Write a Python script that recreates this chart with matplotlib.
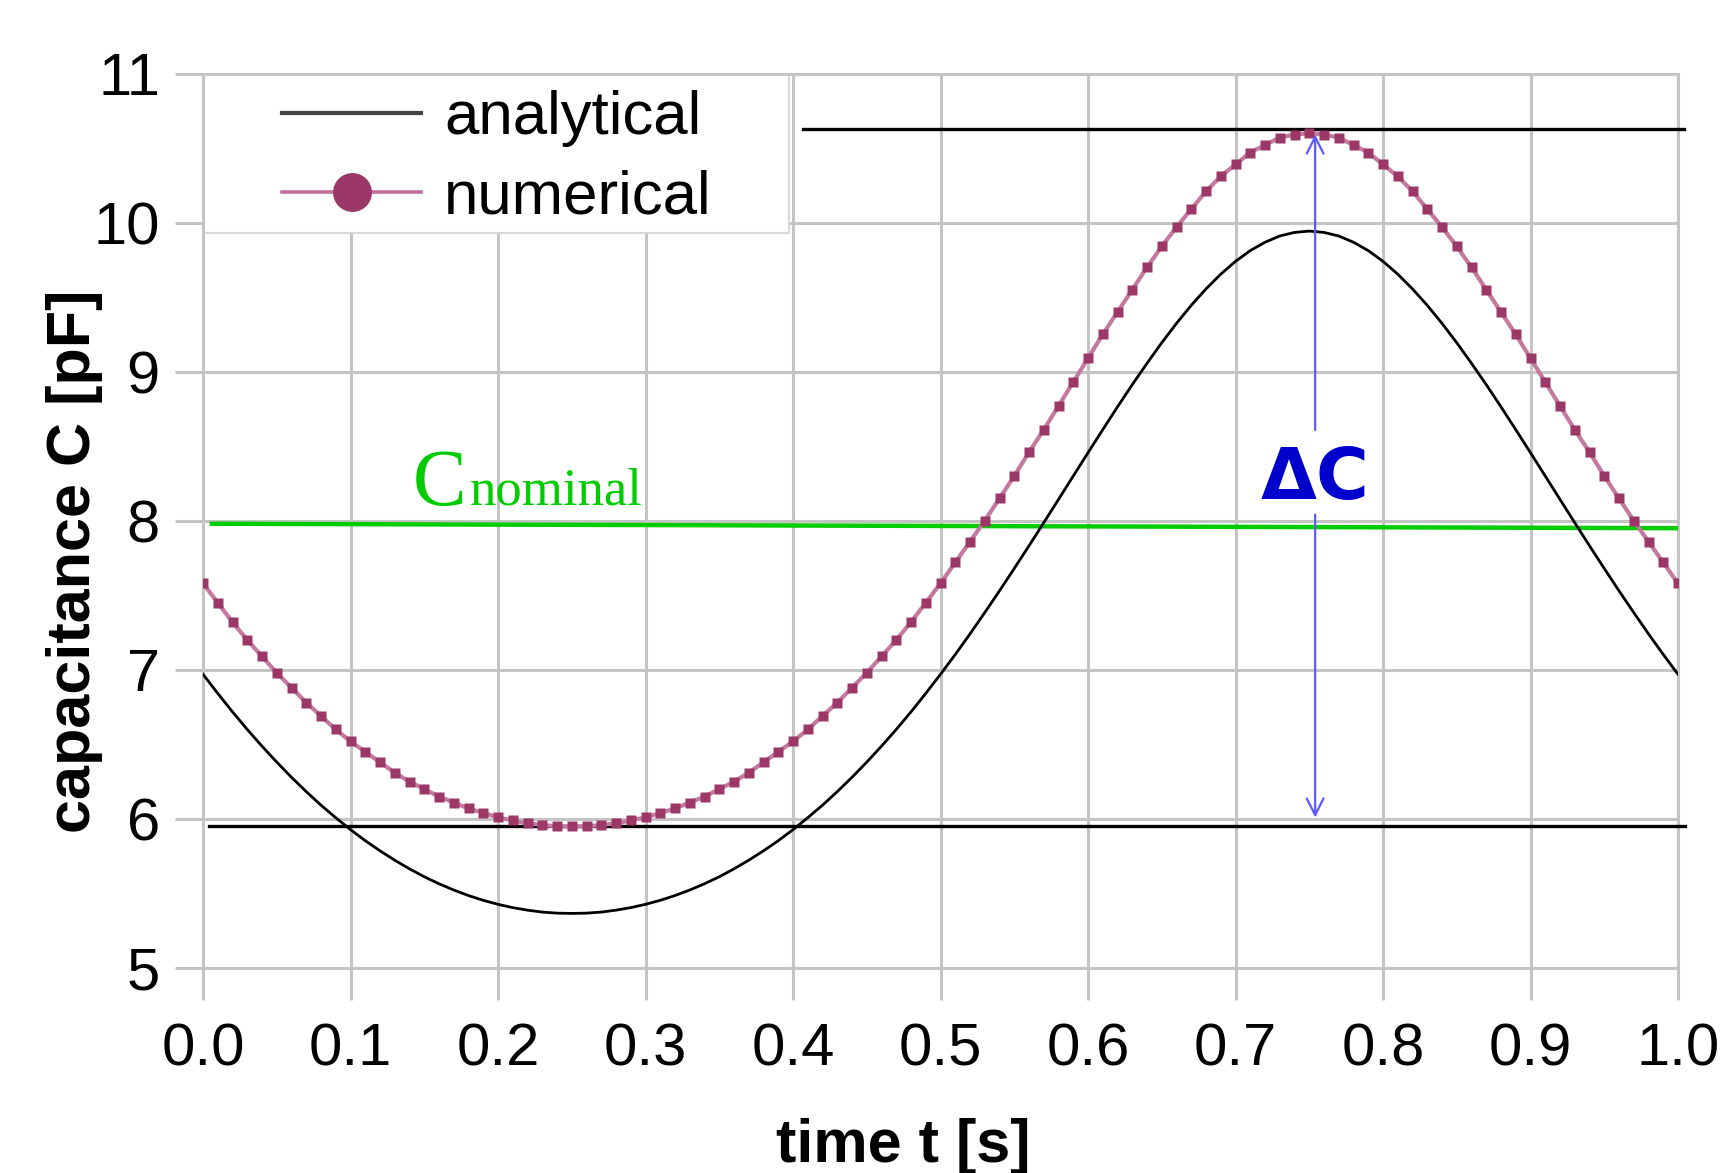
import matplotlib
matplotlib.use("Agg")
import matplotlib.pyplot as plt
from matplotlib.lines import Line2D
from matplotlib.patches import Rectangle
import numpy as np

plt.rcParams['font.family'] = ['Liberation Sans', 'DejaVu Sans']

# time axis, one point every 0.01 s
t = np.round(np.arange(0, 101) * 0.01, 2)

# values (pF)
analytical = [
    6.970, 6.842, 6.718, 6.600, 6.488, 6.381, 6.279, 6.183, 6.092, 6.008, 5.928, 5.854, 5.786,
    5.723, 5.665, 5.612, 5.565, 5.523, 5.486, 5.454, 5.427, 5.405, 5.388, 5.375, 5.368, 5.366,
    5.368, 5.375, 5.388, 5.405, 5.427, 5.454, 5.486, 5.523, 5.565, 5.612, 5.665, 5.723, 5.786,
    5.854, 5.928, 6.008, 6.092, 6.183, 6.279, 6.381, 6.488, 6.600, 6.718, 6.842, 6.970,
    7.103, 7.241, 7.384, 7.530, 7.680, 7.832, 7.987, 8.143, 8.300, 8.456, 8.611, 8.764, 8.913,
    9.056, 9.194, 9.324, 9.445, 9.555, 9.654, 9.740, 9.812, 9.868, 9.910, 9.934, 9.943,
    9.934, 9.910, 9.868, 9.812, 9.740, 9.654, 9.555, 9.445, 9.324, 9.194, 9.056, 8.913, 8.764,
    8.611, 8.456, 8.300, 8.143, 7.987, 7.832, 7.680, 7.530, 7.384, 7.241, 7.103, 6.970,
]
numerical = [
    7.58, 7.45, 7.32, 7.20, 7.09, 6.98, 6.88, 6.78, 6.69, 6.60, 6.52, 6.45, 6.38,
    6.31, 6.25, 6.20, 6.15, 6.11, 6.07, 6.04, 6.01, 5.99, 5.97, 5.96, 5.95, 5.95,
    5.95, 5.96, 5.97, 5.99, 6.01, 6.04, 6.07, 6.11, 6.15, 6.20, 6.25, 6.31, 6.38,
    6.45, 6.52, 6.60, 6.69, 6.78, 6.88, 6.98, 7.09, 7.20, 7.32, 7.45, 7.58,
    7.72, 7.86, 8.00, 8.15, 8.30, 8.46, 8.61, 8.77, 8.93, 9.09, 9.25, 9.40, 9.55,
    9.70, 9.84, 9.97, 10.09, 10.21, 10.31, 10.39, 10.47, 10.52, 10.57, 10.59, 10.60,
    10.59, 10.57, 10.52, 10.47, 10.39, 10.31, 10.21, 10.09, 9.97, 9.84, 9.70, 9.55,
    9.40, 9.25, 9.09, 8.93, 8.77, 8.61, 8.46, 8.30, 8.15, 8.00, 7.86, 7.72, 7.58,
]

# reference lines
c_max = 10.63          # upper black line
c_max_t = [0.407, 1.004]
c_min = 5.95           # lower black line
c_min_t = [0.004, 1.005]
c_nom_t = [0.006, 1.0]
c_nom = [7.98, 7.95]   # green line, slightly sloped
dc_t = 0.754           # position of the delta C arrow

grid_col = '#c4c4c4'
fig = plt.figure(figsize=(17.21, 11.73), dpi=100)
ax = fig.add_axes([203/1721, 1-968/1173, 1475/1721, 894.5/1173])
ax.set_xlim(0, 1)
ax.set_ylim(5, 11)
ax.set_xticks(np.arange(0, 1.01, 0.1))
ax.set_xticklabels(['%.1f' % v for v in np.arange(0, 1.01, 0.1)])
ax.set_yticks(range(5, 12))
ax.set_axisbelow(True)
ax.grid(True, color=grid_col, lw=2.2)
for s in ax.spines.values():
    s.set_color(grid_col)
    s.set_linewidth(2.2)
ax.tick_params(axis='y', length=20, width=2.2, color=grid_col, labelsize=43, pad=11)
ax.tick_params(axis='x', length=23, width=2.2, color=grid_col, labelsize=43, pad=16)

# white legend box over the grid
ax.add_patch(Rectangle((0, 0.822), 0.397, 0.178, transform=ax.transAxes,
                       facecolor='white', edgecolor='#d8d8d8', lw=1.5, zorder=1))

ax.plot(c_max_t, [c_max, c_max], color='black', lw=2.4, clip_on=False, zorder=3)
ax.plot(c_min_t, [c_min, c_min], color='black', lw=2.4, clip_on=False, zorder=3)
ax.plot(c_nom_t, c_nom, color='#00cc00', lw=3.2, zorder=3)

ax.plot(t, analytical, color='black', lw=2, zorder=4)
ax.plot(t, numerical, color='#c4799f', lw=3, marker='s', ms=7.3,
        mfc='#9c3868', mec='none', zorder=5)

# delta C arrow, split around the label
ax.annotate('', xy=(dc_t, 10.61), xytext=(dc_t, 8.59),
            arrowprops=dict(arrowstyle='->', color='#5a5aff', lw=1.6, mutation_scale=30),
            zorder=6)
ax.annotate('', xy=(dc_t, 5.99), xytext=(dc_t, 8.06),
            arrowprops=dict(arrowstyle='->', color='#5a5aff', lw=1.6, mutation_scale=30),
            zorder=6)
ax.text(dc_t, 8.28, '\u0394C', color='#0000cc', fontsize=52, fontweight='bold',
        ha='center', va='center', family=['DejaVu Sans'], zorder=6)

ax.text(0.142, 8.106, 'C', color='#00cc00', fontsize=58, family=['Liberation Serif'],
        ha='left', va='baseline', zorder=6)
ax.text(0.181, 8.106, 'nominal', color='#00cc00', fontsize=38, family=['Liberation Serif'],
        ha='left', va='baseline', zorder=6)

handles = [
    Line2D([], [], color='#444444', lw=3),
    Line2D([], [], color='#c0719a', lw=2.6, marker='o', ms=28, mfc='#9c3868', mec='none'),
]
ax.legend(handles, ['analytical', 'numerical'], loc='upper left', frameon=False,
          bbox_to_anchor=(0.0536, 0.981), borderpad=0, borderaxespad=0,
          handlelength=2.25, handletextpad=0.37, labelspacing=0.36, fontsize=44.5)

fig.text(903/1721, 1-1162/1173, 'time t [s]', fontsize=44, fontweight='bold',
         ha='center', va='baseline', rotation_mode='anchor')
fig.text(90/1721, 1-561/1173, 'capacitance C [pF]', fontsize=44, fontweight='bold',
         ha='center', va='baseline', rotation=90, rotation_mode='anchor')

fig.savefig('out.png', dpi=100)
